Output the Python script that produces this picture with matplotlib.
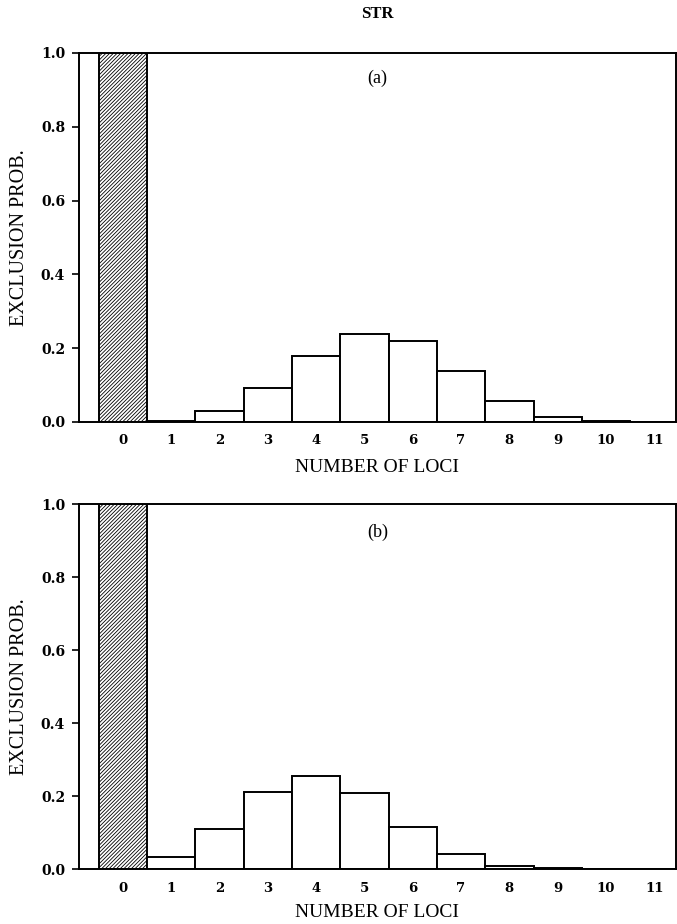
import numpy as np
import matplotlib
matplotlib.use('Agg')
import matplotlib.pyplot as plt

# number of loci and exclusion probabilities
loci = list(range(12))
prob_a = [1.0, 0.004, 0.030, 0.093, 0.180, 0.239, 0.220, 0.139, 0.058, 0.014, 0.003, 0.001]
prob_b = [1.0, 0.034, 0.110, 0.211, 0.255, 0.209, 0.115, 0.042, 0.007, 0.002, 0.001, 0.0]
yticks = [0.0, 0.2, 0.4, 0.6, 0.8, 1.0]

plt.rcParams['hatch.linewidth'] = 0.6
serif = ['Liberation Serif', 'DejaVu Serif']
tickfont = ['DejaVu Serif']

fig = plt.figure(figsize=(6.77, 9.24), dpi=100)
ax_a = fig.add_axes([0.1167, 0.5433, 0.8818, 0.3994])
ax_b = fig.add_axes([0.1167, 0.0595, 0.8818, 0.3950])

for ax, vals, tag, tag_y, xl_y in [(ax_a, prob_a, '(a)', 0.932, -0.100),
                                    (ax_b, prob_b, '(b)', 0.923, -0.097)]:
    bars = ax.bar(loci, vals, width=1.0, color='white', edgecolor='black', linewidth=1.4)
    bars[0].set_hatch('/' * 9)
    ax.set_xlim(-0.91, 11.45)
    ax.set_ylim(0, 1.0)
    ax.set_xticks(loci)
    ax.set_xticklabels([str(l) for l in loci], family=tickfont, fontweight='bold', fontsize=9.5)
    ax.set_yticks(yticks)
    ax.set_yticklabels(['%.1f' % t for t in yticks], family=tickfont, fontweight='bold', fontsize=10)
    ax.tick_params(axis='x', length=0, pad=9)
    ax.tick_params(axis='y', direction='out', length=5, width=1.2, pad=5)
    for s in ax.spines.values():
        s.set_linewidth(1.4)
    ax.set_xlabel('NUMBER OF LOCI', family=serif, fontsize=14)
    ax.xaxis.set_label_coords(0.5, xl_y)
    ax.set_ylabel('EXCLUSION PROB.', family=serif, fontsize=14.5)
    ax.yaxis.set_label_coords(-0.084, 0.5)
    ax.text(0.5, tag_y, tag, transform=ax.transAxes, ha='center', va='center',
            family=serif, fontsize=13)

fig.text(0.558, 0.985, 'STR', ha='center', va='center', family=serif, fontweight='bold', fontsize=12)

plt.savefig('out.png', dpi=100)
